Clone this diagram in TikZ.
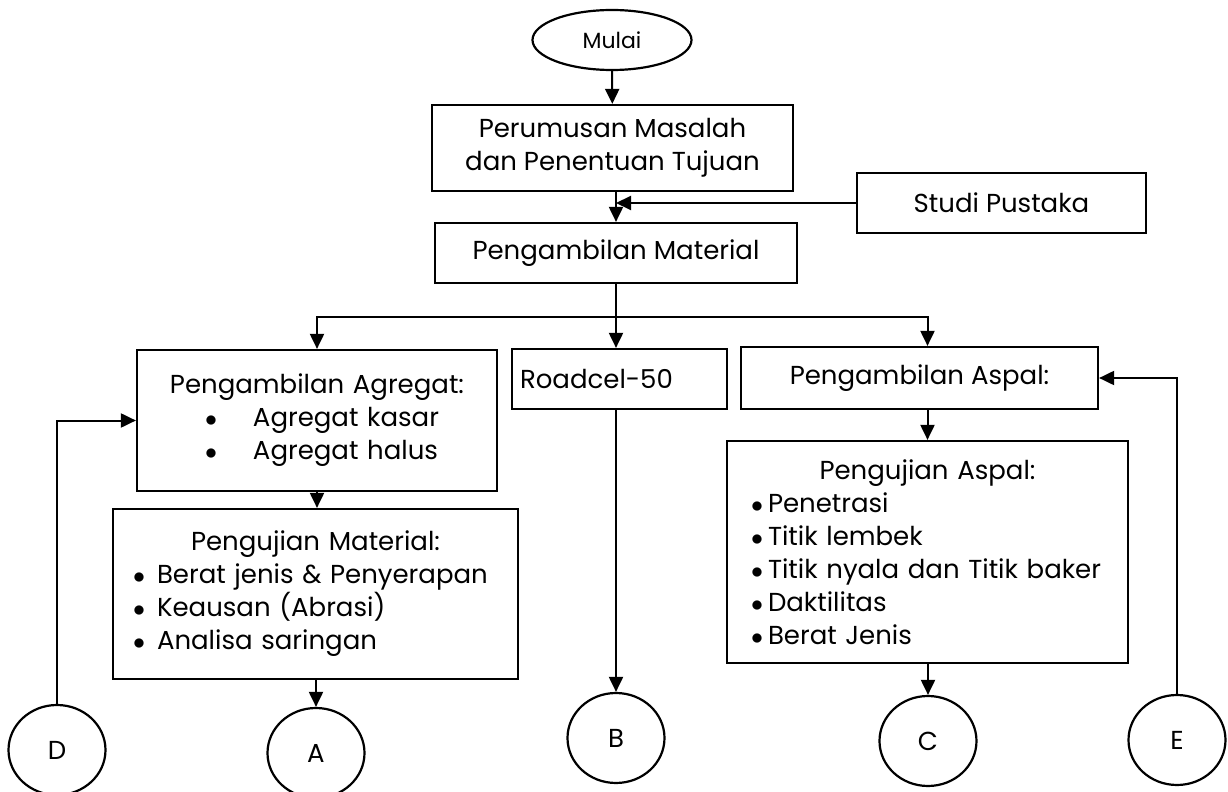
\documentclass[tikz,border=0pt]{standalone}
\usepackage{fontspec}
\setmainfont{Poppins}
\usetikzlibrary{shapes.geometric,arrows.meta}

\newcommand{\butir}[2]{\hspace*{#1}$\bullet$\hspace{#2}}

\begin{document}
\begin{tikzpicture}[x=0.5pt,y=-0.5pt,
  kotak/.style={draw,line width=1.1pt,rectangle,inner sep=0pt,align=center},
  bulat/.style={draw,line width=1.1pt,ellipse,minimum width=48.5pt,minimum height=45pt,inner sep=0pt},
  panah/.style={line width=1pt,-{Triangle[length=7.5pt,width=7pt]}},
  garis/.style={line width=1pt},
  font=\fontsize{13}{16.5}\selectfont]

\useasboundingbox (0,0) rectangle (1228,792);

% Awal
\node[bulat,minimum width=79.5pt,minimum height=30pt,font=\fontsize{11}{13}\selectfont]
(mulai) at (612,40)
{Mulai};

\node[kotak,minimum width=180.5pt,minimum height=43pt]
(rumusan) at (612.5,148)
{Perumusan Masalah\\dan Penentuan Tujuan};

\node[kotak,minimum width=144.5pt,minimum height=30pt]
(studi) at (1001.5,203)
{Studi Pustaka};

\node[kotak,minimum width=181pt,minimum height=30pt]
(material) at (616,253)
{Pengambilan Material};

% Cabang material
\node[kotak,text width=180pt,minimum height=70.5pt,align=left]
(agregat) at (317,420.5)
{\makebox[180pt][c]{Pengambilan Agregat:}\\
\butir{34pt}{18pt}Agregat kasar\\
\butir{34pt}{18pt}Agregat halus};

\node[kotak,text width=107.5pt,minimum height=30pt,align=left]
(roadcel) at (619.5,379)
{\hspace*{4pt}Roadcel-50};

\node[kotak,minimum width=178.5pt,minimum height=31pt]
(aspal) at (919.5,378)
{Pengambilan Aspal:};

% Pengujian
\node[kotak,text width=202.5pt,minimum height=85pt,align=left]
(ujimat) at (315.5,594)
{\makebox[202.5pt][c]{Pengujian Material:}\\
\butir{10pt}{6pt}Berat jenis \& Penyerapan\\
\butir{10pt}{6pt}Keausan (Abrasi)\\
\butir{10pt}{6pt}Analisa saringan\\[12pt]};

\node[kotak,text width=200.5pt,minimum height=111pt,align=left]
(ujiaspal) at (927.5,552)
{\makebox[200.5pt][c]{Pengujian Aspal:}\\
\butir{12pt}{2.5pt}Penetrasi\\
\butir{12pt}{2.5pt}Titik lembek\\
\butir{12pt}{2.5pt}Titik nyala dan Titik baker\\
\butir{12pt}{2.5pt}Daktilitas\\
\butir{12pt}{2.5pt}Berat Jenis};

% Penghubung
\node[bulat] (D) at (57,750) {D};
\node[bulat] (A) at (316,753) {A};
\node[bulat] (B) at (616,738) {B};
\node[bulat] (C) at (928,741) {C};
\node[bulat] (E) at (1177,740) {E};

\coordinate (cabang) at (616,317);

% Panah
\draw[panah] (mulai) -- (rumusan);
\draw[panah] (rumusan.south -| material.north) -- (material.north);
\draw[panah] (studi.west) -- (studi.west -| material.north);

\draw[garis] (material.south) -- (cabang);
\draw[panah] (cabang) -| (agregat.north);
\draw[panah] (cabang) -- (cabang |- roadcel.north);
\draw[panah] (cabang) -| (cabang -| ujiaspal.north) -- (aspal.north -| ujiaspal.north);

\draw[panah] (agregat.south) -- (agregat.south |- ujimat.north);
\draw[panah] (aspal.south -| ujiaspal.north) -- (ujiaspal.north);

\draw[panah] (ujimat.south -| A.north) -- (A.north);
\draw[panah] (roadcel.south -| B.north) -- (B.north);
\draw[panah] (ujiaspal.south -| C.north) -- (C.north);

\draw[panah] (D.north) |- (agregat.west);
\draw[panah] (E.north) |- (aspal.east);

\end{tikzpicture}
\end{document}
